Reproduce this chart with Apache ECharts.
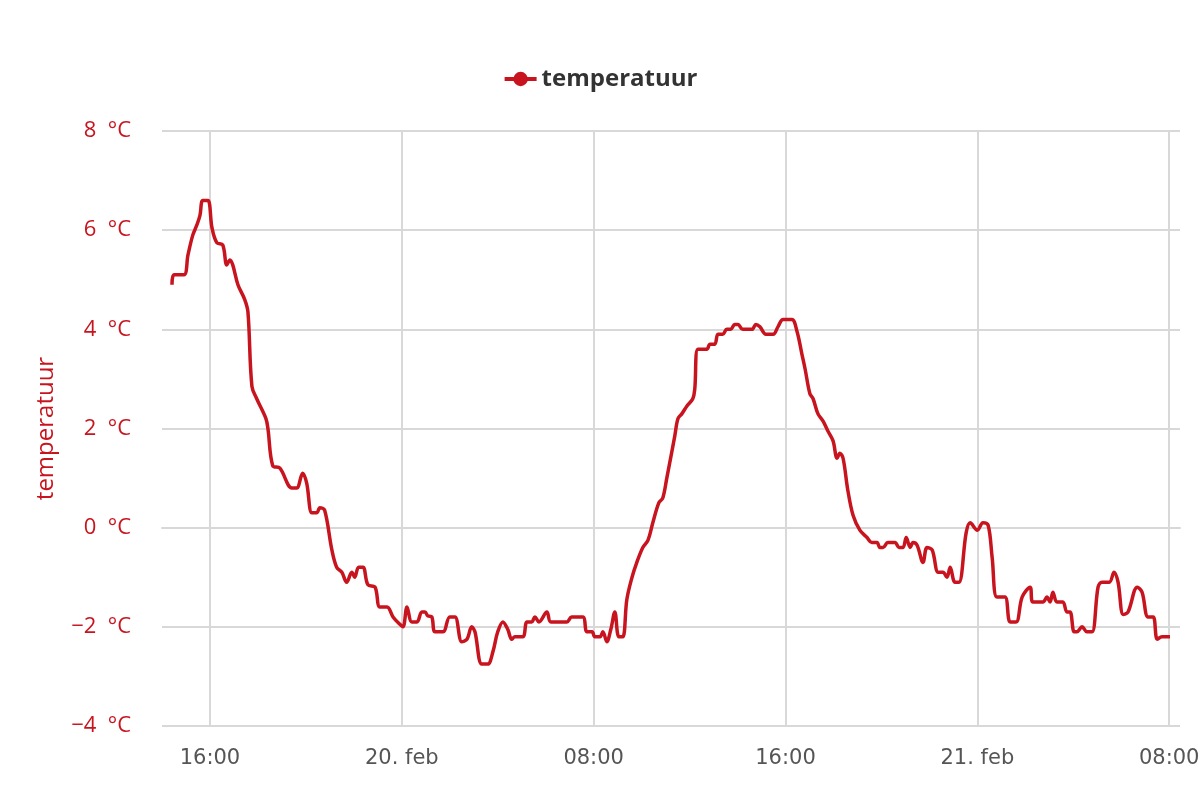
<!DOCTYPE html>
<html>
<head>
	<meta charset="UTF-8">
	<title>temperatuur</title>
	<script src="https://cdn.jsdelivr.net/npm/echarts@6/dist/echarts.min.js"></script>
	<style>
		html,body{margin:0;padding:0;background:#fff;}
		#mychart{width:1200px;height:800px;}
	</style>
</head>
<body>
<div id="mychart"></div>
<script type="text/javascript">
	// meetmomenten (lokale tijd)
	var times = [
		'2019-02-19 14:25','2019-02-19 14:30','2019-02-19 14:55','2019-02-19 15:05','2019-02-19 15:17','2019-02-19 15:27','2019-02-19 15:35','2019-02-19 15:42','2019-02-19 15:55',
		'2019-02-19 16:05','2019-02-19 16:17','2019-02-19 16:32','2019-02-19 16:42','2019-02-19 16:50','2019-02-19 16:57','2019-02-19 17:10','2019-02-19 17:27','2019-02-19 17:35','2019-02-19 17:45','2019-02-19 17:57',
		'2019-02-19 18:20','2019-02-19 18:25','2019-02-19 18:37','2019-02-19 18:55','2019-02-19 19:25','2019-02-19 19:37','2019-02-19 19:52','2019-02-19 20:02','2019-02-19 20:15','2019-02-19 20:27',
		'2019-02-19 20:35','2019-02-19 20:47','2019-02-19 21:05','2019-02-19 21:17','2019-02-19 21:30','2019-02-19 21:42','2019-02-19 21:55','2019-02-19 22:02','2019-02-19 22:12','2019-02-19 22:23',
		'2019-02-19 22:35','2019-02-19 22:53','2019-02-19 23:05','2019-02-19 23:23','2019-02-19 23:38','2019-02-19 23:55',
		'2019-02-20 00:03','2019-02-20 00:13','2019-02-20 00:25','2019-02-20 00:38','2019-02-20 00:50','2019-02-20 00:58','2019-02-20 01:05','2019-02-20 01:15','2019-02-20 01:23','2019-02-20 01:43',
		'2019-02-20 02:00','2019-02-20 02:13','2019-02-20 02:30','2019-02-20 02:43','2019-02-20 02:55','2019-02-20 03:03','2019-02-20 03:20','2019-02-20 03:35','2019-02-20 03:48','2019-02-20 04:00',
		'2019-02-20 04:13','2019-02-20 04:25','2019-02-20 04:35','2019-02-20 04:43','2019-02-20 05:03','2019-02-20 05:13','2019-02-20 05:25','2019-02-20 05:33','2019-02-20 05:43','2019-02-20 06:03',
		'2019-02-20 06:13','2019-02-20 06:53','2019-02-20 07:05','2019-02-20 07:33','2019-02-20 07:43','2019-02-20 07:56','2019-02-20 08:03','2019-02-20 08:16','2019-02-20 08:23','2019-02-20 08:33',
		'2019-02-20 08:43','2019-02-20 08:53','2019-02-20 09:03','2019-02-20 09:13',
		'2019-02-20 09:23','2019-02-20 09:36','2019-02-20 09:48','2019-02-20 10:03','2019-02-20 10:16','2019-02-20 10:28','2019-02-20 10:43','2019-02-20 10:53','2019-02-20 11:03','2019-02-20 11:16',
		'2019-02-20 11:23','2019-02-20 11:31','2019-02-20 11:41','2019-02-20 11:53','2019-02-20 12:08','2019-02-20 12:13','2019-02-20 12:21','2019-02-20 12:43','2019-02-20 12:51','2019-02-20 13:03',
		'2019-02-20 13:11','2019-02-20 13:23','2019-02-20 13:33','2019-02-20 13:43','2019-02-20 13:53','2019-02-20 14:01','2019-02-20 14:13','2019-02-20 14:36','2019-02-20 14:46','2019-02-20 14:56',
		'2019-02-20 15:11','2019-02-20 15:29','2019-02-20 15:41','2019-02-20 15:54','2019-02-20 16:16','2019-02-20 16:29','2019-02-20 16:41','2019-02-20 16:49','2019-02-20 17:01','2019-02-20 17:09',
		'2019-02-20 17:21','2019-02-20 17:34','2019-02-20 17:46','2019-02-20 17:59','2019-02-20 18:09','2019-02-20 18:16','2019-02-20 18:24','2019-02-20 18:36','2019-02-20 18:49','2019-02-20 19:06',
		'2019-02-20 19:24','2019-02-20 19:36','2019-02-20 19:49','2019-02-20 19:56','2019-02-20 20:04','2019-02-20 20:16','2019-02-20 20:34','2019-02-20 20:44','2019-02-20 20:54','2019-02-20 21:02',
		'2019-02-20 21:12','2019-02-20 21:19','2019-02-20 21:29','2019-02-20 21:44','2019-02-20 21:54','2019-02-20 22:07','2019-02-20 22:22','2019-02-20 22:34','2019-02-20 22:44','2019-02-20 22:52',
		'2019-02-20 23:04','2019-02-20 23:14','2019-02-20 23:32','2019-02-20 23:42',
		'2019-02-21 00:00','2019-02-21 00:14','2019-02-21 00:27','2019-02-21 00:37','2019-02-21 00:49','2019-02-21 01:09','2019-02-21 01:22','2019-02-21 01:37','2019-02-21 01:52','2019-02-21 02:12',
		'2019-02-21 02:19','2019-02-21 02:44','2019-02-21 02:54','2019-02-21 03:02','2019-02-21 03:09','2019-02-21 03:19','2019-02-21 03:34','2019-02-21 03:44','2019-02-21 03:52','2019-02-21 04:02',
		'2019-02-21 04:09','2019-02-21 04:22','2019-02-21 04:34','2019-02-21 04:47','2019-02-21 05:02','2019-02-21 05:12','2019-02-21 05:30','2019-02-21 05:42','2019-02-21 05:52','2019-02-21 06:05',
		'2019-02-21 06:17','2019-02-21 06:40','2019-02-21 06:52','2019-02-21 07:07','2019-02-21 07:20','2019-02-21 07:30','2019-02-21 07:42','2019-02-21 08:02'
	];
	// temperatuur in °C
	var temps = [
		4.9,5.1,5.1,5.5,5.9,6.1,6.3,6.6,6.6,
		6.05,5.75,5.7,5.3,5.4,5.3,4.9,4.6,4.35,2.85,2.6,
		2.2,2.0,1.25,1.2,0.8,0.8,1.1,0.9,0.3,0.3,
		0.4,0.35,-0.45,-0.8,-0.9,-1.1,-0.9,-1.0,-0.8,-0.8,
		-1.15,-1.2,-1.6,-1.6,-1.8,-1.95,
		-2.0,-1.6,-1.9,-1.9,-1.7,-1.7,-1.78,-1.8,-2.1,-2.1,
		-1.8,-1.8,-2.3,-2.25,-2.0,-2.1,-2.75,-2.75,-2.5,-2.1,
		-1.9,-2.05,-2.25,-2.2,-2.2,-1.9,-1.9,-1.8,-1.9,-1.7,
		-1.9,-1.9,-1.8,-1.8,-2.1,-2.1,-2.2,-2.2,-2.1,-2.3,
		-2.05,-1.7,-2.2,-2.2,
		-1.45,-1.0,-0.7,-0.4,-0.25,0.1,0.5,0.6,1.0,1.55,
		1.85,2.2,2.3,2.45,2.6,2.8,3.6,3.6,3.7,3.7,
		3.9,3.9,4.0,4.0,4.1,4.1,4.0,4.0,4.1,4.05,
		3.9,3.9,4.05,4.2,4.2,3.95,3.5,3.2,2.7,2.6,
		2.3,2.15,1.95,1.75,1.4,1.5,1.4,0.75,0.25,-0.05,
		-0.2,-0.3,-0.3,-0.4,-0.4,-0.3,-0.3,-0.4,-0.4,-0.2,
		-0.4,-0.3,-0.35,-0.7,-0.4,-0.45,-0.9,-0.9,-1.0,-0.8,
		-1.1,-1.1,-0.1,0.1,
		-0.05,0.1,0.05,-0.6,-1.4,-1.4,-1.9,-1.9,-1.4,-1.2,
		-1.5,-1.5,-1.4,-1.5,-1.3,-1.5,-1.5,-1.7,-1.7,-2.1,
		-2.1,-2.0,-2.1,-2.1,-1.2,-1.1,-1.1,-0.9,-1.1,-1.75,
		-1.7,-1.2,-1.3,-1.8,-1.8,-2.25,-2.2,-2.2
	];
	// tijdas: bereik en labels om de 8 uur
	var xMin = '2019-02-19 14:00', xMax = '2019-02-21 08:27';
	var xTicks = ['2019-02-19 16:00','2019-02-20 00:00','2019-02-20 08:00','2019-02-20 16:00','2019-02-21 00:00','2019-02-21 08:00'];
	var yTicks = [-4, 8, 2]; // min, max, stap

	function ms(s) { return echarts.time.parse(s).getTime(); }

	var myChart = echarts.init(document.getElementById('mychart'));
	var seriesData = [];
	for (var i = 0; i < times.length; i++) {
		seriesData.push([ms(times[i]), temps[i]]);
	}
	var tickValues = xTicks.map(ms);
	var rood = '#c8141e';
	var grijs = '#d8d8d8';
	var option = {
		animation: false,
		legend: {
			top: 62,
			left: 'center',
			itemWidth: 32,
			itemHeight: 18,
			itemGap: 10,
			lineStyle: { width: 4 },
			textStyle: {
				fontFamily: 'Open Sans',
				fontWeight: 'bold',
				fontSize: 24,
				color: '#333333'
			},
			data: ['temperatuur']
		},
		grid: {
			left: 162,
			right: 20,
			top: 131,
			bottom: 74,
			outerBoundsMode: 'none'
		},
		xAxis: {
			type: 'value',
			min: ms(xMin),
			max: ms(xMax),
			axisLine: { lineStyle: { color: grijs, width: 2 } },
			axisTick: { show: true, length: 18, customValues: tickValues, lineStyle: { color: grijs, width: 2 } },
			splitLine: { show: true, lineStyle: { color: grijs, width: 2 } },
			axisLabel: {
				customValues: tickValues,
				margin: 22,
				color: '#555555',
				fontFamily: 'DejaVu Sans',
				fontSize: 21,
				hideOverlap: false,
				formatter: function (val) {
					var d = new Date(val);
					var h = d.getHours(), m = d.getMinutes();
					if (h === 0 && m === 0) {
						return d.getDate() + '. feb';
					}
					return (h < 10 ? '0' : '') + h + ':' + (m < 10 ? '0' : '') + m;
				}
			}
		},
		yAxis: {
			type: 'value',
			min: yTicks[0],
			max: yTicks[1],
			interval: yTicks[2],
			name: 'temperatuur',
			nameLocation: 'middle',
			nameGap: 104,
			nameRotate: 90,
			nameTextStyle: { color: rood, fontFamily: 'Open Sans', fontSize: 24 },
			axisLine: { show: false },
			axisTick: { show: false },
			splitLine: { lineStyle: { color: grijs, width: 2 } },
			axisLabel: {
				margin: 31,
				color: rood,
				fontFamily: 'Open Sans',
				fontSize: 22,
				formatter: function (v) {
					return String(v).replace('-', '\u2212') + '  °C';
				}
			}
		},
		series: [{
			name: 'temperatuur',
			type: 'line',
			data: seriesData,
			smooth: 0.35,
			symbol: 'circle',
			symbolSize: 14,
			showSymbol: false,
			itemStyle: { color: rood },
			lineStyle: { color: rood, width: 3.5 }
		}]
	};
	myChart.setOption(option);
</script>
</body>
</html>
